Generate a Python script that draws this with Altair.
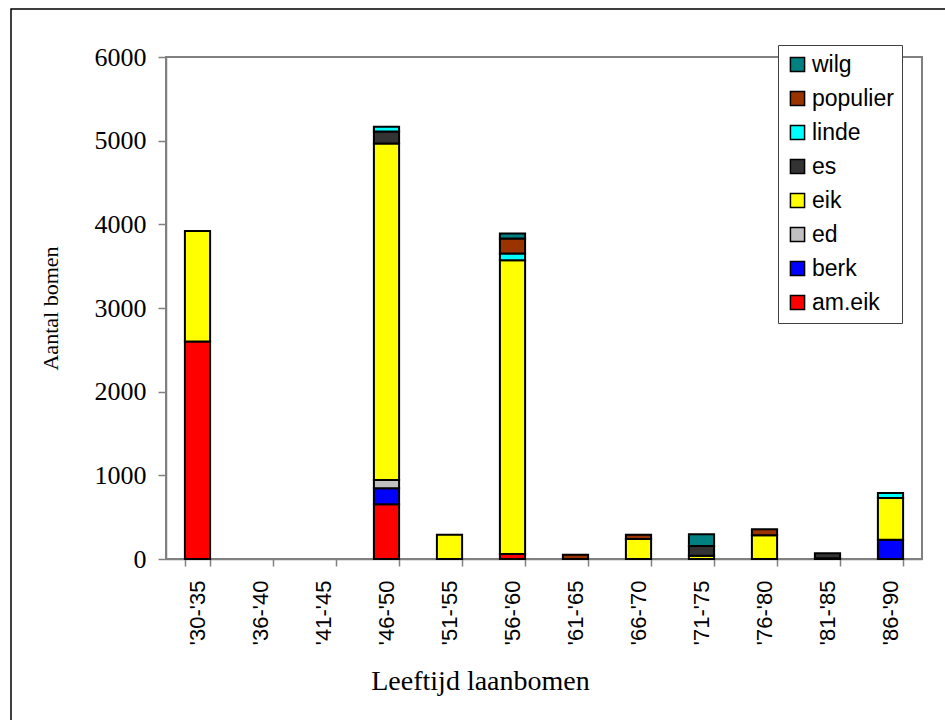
import altair as alt
import pandas as pd

categories = ["'30-'35", "'36-'40", "'41-'45", "'46-'50", "'51-'55", "'56-'60",
              "'61-'65", "'66-'70", "'71-'75", "'76-'80", "'81-'85", "'86-'90"]

species = ["am.eik", "berk", "ed", "eik", "es", "linde", "populier", "wilg"]
colors = ["#FF0000", "#0000FF", "#C0C0C0", "#FFFF00", "#333333", "#00FFFF", "#993300", "#008080"]

am_eik   = [2600, 0, 0, 655, 0, 60, 0, 0, 0, 0, 0, 0]
berk     = [0, 0, 0, 190, 0, 0, 0, 0, 0, 0, 0, 230]
ed       = [0, 0, 0, 100, 0, 0, 0, 0, 0, 0, 0, 0]
eik      = [1320, 0, 0, 4020, 290, 3510, 0, 240, 40, 285, 10, 500]
es       = [0, 0, 0, 145, 0, 0, 0, 0, 115, 0, 60, 0]
linde    = [0, 0, 0, 55, 0, 80, 0, 0, 0, 0, 0, 60]
populier = [0, 0, 0, 0, 0, 180, 50, 50, 0, 70, 0, 0]
wilg     = [0, 0, 0, 0, 0, 60, 0, 0, 140, 0, 0, 0]

series = [am_eik, berk, ed, eik, es, linde, populier, wilg]

rows = []
for idx, (name, vals) in enumerate(zip(species, series)):
    for cat, v in zip(categories, vals):
        rows.append({"periode": cat, "soort": name, "aantal": v, "idx": idx})
df = pd.DataFrame(rows)

legend_order = list(reversed(species))
legend_colors = list(reversed(colors))

bars = alt.Chart(df).transform_filter("datum.aantal > 0").mark_bar(
    stroke="black", strokeWidth=2
).encode(
    x=alt.X("periode:N", sort=categories,
            scale=alt.Scale(domain=categories, paddingInner=0.6, paddingOuter=0.3),
            axis=alt.Axis(title="Leeftijd laanbomen", labelAngle=270,
                          labelFont="Liberation Sans", labelFontSize=22,
                          labelColor="black", labelAlign="right", labelBaseline="middle",
                          labelPadding=14, tickBand="extent", tickSize=7,
                          tickColor="#808080", tickWidth=1.5,
                          domainColor="#808080", domainWidth=1.5,
                          titleFont="Liberation Serif", titleFontSize=28,
                          titleFontWeight="normal", titleColor="black",
                          titleX=314, titleY=122, titleAlign="center",
                          titleBaseline="middle", labelOverlap=False)),
    y=alt.Y("aantal:Q", stack="zero",
            scale=alt.Scale(domain=[0, 6000], nice=False),
            axis=alt.Axis(title="Aantal bomen", values=[0, 1000, 2000, 3000, 4000, 5000, 6000],
                          format="d", grid=False,
                          labelFont="Liberation Serif", labelFontSize=26,
                          labelColor="black", labelPadding=12,
                          tickSize=8, tickColor="#808080", tickWidth=1.5,
                          domainColor="#808080", domainWidth=1.5,
                          titleFont="Liberation Serif", titleFontSize=22,
                          titleFontWeight="normal", titleColor="black",
                          titleAngle=270, titleX=-116, titleY=251,
                          titleAlign="center", titleBaseline="middle")),
    color=alt.Color("soort:N",
                    scale=alt.Scale(domain=legend_order, range=legend_colors),
                    legend=alt.Legend(title=None, orient="none", legendX=612, legendY=-12,
                                      symbolType="square", symbolSize=200,
                                      symbolStrokeColor="black", symbolStrokeWidth=1.5,
                                      symbolOpacity=1,
                                      labelFont="Liberation Sans", labelFontSize=23,
                                      labelColor="black", labelOffset=3,
                                      rowPadding=10, padding=8,
                                      strokeColor="#404040", fillColor="white")),
    order=alt.Order("idx:Q", sort="ascending"),
)

frame = alt.Chart(alt.Data(values=[{"a": 1}])).mark_rect(
    fill="transparent", stroke="black", strokeWidth=1.5
).encode(
    x=alt.value(-155), x2=alt.value(784), y=alt.value(-48), y2=alt.value(673)
)

chart = alt.layer(frame, bars).properties(
    width=756, height=502,
    autosize=alt.AutoSizeParams(type="none"),
    padding={"left": 166, "top": 57, "right": 23, "bottom": 161},
    background="white",
).configure_view(stroke="#808080", strokeWidth=2)

chart.save("out.html", embed_options={"renderer": "svg", "actions": False})
